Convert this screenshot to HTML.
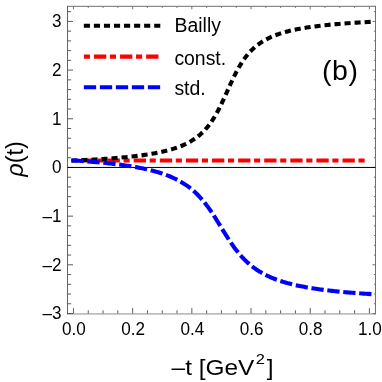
<!DOCTYPE html>
<html><head><meta charset="utf-8"><title>rho(t)</title>
<style>
html,body{margin:0;padding:0;background:#fff;}
body{width:382px;height:382px;overflow:hidden;}
svg{display:block;will-change:transform;}
text{font-family:"Liberation Sans",sans-serif;fill:#000;}
.tk{font-size:18.2px;}
.lg{font-size:19.4px;}
.ax{stroke:#4a4a4a;stroke-width:0.9;fill:none;}
.axl{stroke:#646464;stroke-width:1;fill:none;}
.fr{stroke:#707070;stroke-width:1;fill:none;}
.cv{fill:none;stroke-width:4.1;stroke-linecap:square;stroke-linejoin:round;}
</style></head>
<body>
<svg width="382" height="382" viewBox="0 0 382 382">
<rect width="382" height="382" fill="#fff"/>
<!-- frame -->
<path d="M67.5 6.3 H376.0" class="fr"/>
<path d="M375.5 5.8 V314.3" class="fr"/>
<path d="M67.0 313.95 H376.0" class="fr" style="stroke:#8c8c8c"/>
<path d="M67.5 5.8 V314.3" class="axl"/>
<line x1="73.45" y1="313.5" x2="73.45" y2="308.10" class="ax"/>
<line x1="73.45" y1="6.3" x2="73.45" y2="9.30" class="fr"/>
<line x1="88.25" y1="313.5" x2="88.25" y2="310.30" class="ax"/>
<line x1="88.25" y1="6.3" x2="88.25" y2="7.90" class="fr"/>
<line x1="103.05" y1="313.5" x2="103.05" y2="310.30" class="ax"/>
<line x1="103.05" y1="6.3" x2="103.05" y2="7.90" class="fr"/>
<line x1="117.84" y1="313.5" x2="117.84" y2="310.30" class="ax"/>
<line x1="117.84" y1="6.3" x2="117.84" y2="7.90" class="fr"/>
<line x1="132.64" y1="313.5" x2="132.64" y2="308.10" class="ax"/>
<line x1="132.64" y1="6.3" x2="132.64" y2="9.30" class="fr"/>
<line x1="147.44" y1="313.5" x2="147.44" y2="310.30" class="ax"/>
<line x1="147.44" y1="6.3" x2="147.44" y2="7.90" class="fr"/>
<line x1="162.24" y1="313.5" x2="162.24" y2="310.30" class="ax"/>
<line x1="162.24" y1="6.3" x2="162.24" y2="7.90" class="fr"/>
<line x1="177.03" y1="313.5" x2="177.03" y2="310.30" class="ax"/>
<line x1="177.03" y1="6.3" x2="177.03" y2="7.90" class="fr"/>
<line x1="191.83" y1="313.5" x2="191.83" y2="308.10" class="ax"/>
<line x1="191.83" y1="6.3" x2="191.83" y2="9.30" class="fr"/>
<line x1="206.63" y1="313.5" x2="206.63" y2="310.30" class="ax"/>
<line x1="206.63" y1="6.3" x2="206.63" y2="7.90" class="fr"/>
<line x1="221.43" y1="313.5" x2="221.43" y2="310.30" class="ax"/>
<line x1="221.43" y1="6.3" x2="221.43" y2="7.90" class="fr"/>
<line x1="236.22" y1="313.5" x2="236.22" y2="310.30" class="ax"/>
<line x1="236.22" y1="6.3" x2="236.22" y2="7.90" class="fr"/>
<line x1="251.02" y1="313.5" x2="251.02" y2="308.10" class="ax"/>
<line x1="251.02" y1="6.3" x2="251.02" y2="9.30" class="fr"/>
<line x1="265.82" y1="313.5" x2="265.82" y2="310.30" class="ax"/>
<line x1="265.82" y1="6.3" x2="265.82" y2="7.90" class="fr"/>
<line x1="280.62" y1="313.5" x2="280.62" y2="310.30" class="ax"/>
<line x1="280.62" y1="6.3" x2="280.62" y2="7.90" class="fr"/>
<line x1="295.41" y1="313.5" x2="295.41" y2="310.30" class="ax"/>
<line x1="295.41" y1="6.3" x2="295.41" y2="7.90" class="fr"/>
<line x1="310.21" y1="313.5" x2="310.21" y2="308.10" class="ax"/>
<line x1="310.21" y1="6.3" x2="310.21" y2="9.30" class="fr"/>
<line x1="325.01" y1="313.5" x2="325.01" y2="310.30" class="ax"/>
<line x1="325.01" y1="6.3" x2="325.01" y2="7.90" class="fr"/>
<line x1="339.81" y1="313.5" x2="339.81" y2="310.30" class="ax"/>
<line x1="339.81" y1="6.3" x2="339.81" y2="7.90" class="fr"/>
<line x1="354.60" y1="313.5" x2="354.60" y2="310.30" class="ax"/>
<line x1="354.60" y1="6.3" x2="354.60" y2="7.90" class="fr"/>
<line x1="369.40" y1="313.5" x2="369.40" y2="308.10" class="ax"/>
<line x1="369.40" y1="6.3" x2="369.40" y2="9.30" class="fr"/>
<line x1="67.5" y1="313.49" x2="73.00" y2="313.49" class="ax"/>
<line x1="375.5" y1="313.49" x2="372.50" y2="313.49" class="fr"/>
<line x1="67.5" y1="303.75" x2="71.10" y2="303.75" class="ax"/>
<line x1="375.5" y1="303.75" x2="373.90" y2="303.75" class="fr"/>
<line x1="67.5" y1="294.02" x2="71.10" y2="294.02" class="ax"/>
<line x1="375.5" y1="294.02" x2="373.90" y2="294.02" class="fr"/>
<line x1="67.5" y1="284.28" x2="71.10" y2="284.28" class="ax"/>
<line x1="375.5" y1="284.28" x2="373.90" y2="284.28" class="fr"/>
<line x1="67.5" y1="274.55" x2="71.10" y2="274.55" class="ax"/>
<line x1="375.5" y1="274.55" x2="373.90" y2="274.55" class="fr"/>
<line x1="67.5" y1="264.81" x2="73.00" y2="264.81" class="ax"/>
<line x1="375.5" y1="264.81" x2="372.50" y2="264.81" class="fr"/>
<line x1="67.5" y1="255.07" x2="71.10" y2="255.07" class="ax"/>
<line x1="375.5" y1="255.07" x2="373.90" y2="255.07" class="fr"/>
<line x1="67.5" y1="245.34" x2="71.10" y2="245.34" class="ax"/>
<line x1="375.5" y1="245.34" x2="373.90" y2="245.34" class="fr"/>
<line x1="67.5" y1="235.60" x2="71.10" y2="235.60" class="ax"/>
<line x1="375.5" y1="235.60" x2="373.90" y2="235.60" class="fr"/>
<line x1="67.5" y1="225.87" x2="71.10" y2="225.87" class="ax"/>
<line x1="375.5" y1="225.87" x2="373.90" y2="225.87" class="fr"/>
<line x1="67.5" y1="216.13" x2="73.00" y2="216.13" class="ax"/>
<line x1="375.5" y1="216.13" x2="372.50" y2="216.13" class="fr"/>
<line x1="67.5" y1="206.39" x2="71.10" y2="206.39" class="ax"/>
<line x1="375.5" y1="206.39" x2="373.90" y2="206.39" class="fr"/>
<line x1="67.5" y1="196.66" x2="71.10" y2="196.66" class="ax"/>
<line x1="375.5" y1="196.66" x2="373.90" y2="196.66" class="fr"/>
<line x1="67.5" y1="186.92" x2="71.10" y2="186.92" class="ax"/>
<line x1="375.5" y1="186.92" x2="373.90" y2="186.92" class="fr"/>
<line x1="67.5" y1="177.19" x2="71.10" y2="177.19" class="ax"/>
<line x1="375.5" y1="177.19" x2="373.90" y2="177.19" class="fr"/>
<line x1="67.5" y1="167.45" x2="73.00" y2="167.45" class="ax"/>
<line x1="375.5" y1="167.45" x2="372.50" y2="167.45" class="fr"/>
<line x1="67.5" y1="157.71" x2="71.10" y2="157.71" class="ax"/>
<line x1="375.5" y1="157.71" x2="373.90" y2="157.71" class="fr"/>
<line x1="67.5" y1="147.98" x2="71.10" y2="147.98" class="ax"/>
<line x1="375.5" y1="147.98" x2="373.90" y2="147.98" class="fr"/>
<line x1="67.5" y1="138.24" x2="71.10" y2="138.24" class="ax"/>
<line x1="375.5" y1="138.24" x2="373.90" y2="138.24" class="fr"/>
<line x1="67.5" y1="128.51" x2="71.10" y2="128.51" class="ax"/>
<line x1="375.5" y1="128.51" x2="373.90" y2="128.51" class="fr"/>
<line x1="67.5" y1="118.77" x2="73.00" y2="118.77" class="ax"/>
<line x1="375.5" y1="118.77" x2="372.50" y2="118.77" class="fr"/>
<line x1="67.5" y1="109.03" x2="71.10" y2="109.03" class="ax"/>
<line x1="375.5" y1="109.03" x2="373.90" y2="109.03" class="fr"/>
<line x1="67.5" y1="99.30" x2="71.10" y2="99.30" class="ax"/>
<line x1="375.5" y1="99.30" x2="373.90" y2="99.30" class="fr"/>
<line x1="67.5" y1="89.56" x2="71.10" y2="89.56" class="ax"/>
<line x1="375.5" y1="89.56" x2="373.90" y2="89.56" class="fr"/>
<line x1="67.5" y1="79.83" x2="71.10" y2="79.83" class="ax"/>
<line x1="375.5" y1="79.83" x2="373.90" y2="79.83" class="fr"/>
<line x1="67.5" y1="70.09" x2="73.00" y2="70.09" class="ax"/>
<line x1="375.5" y1="70.09" x2="372.50" y2="70.09" class="fr"/>
<line x1="67.5" y1="60.35" x2="71.10" y2="60.35" class="ax"/>
<line x1="375.5" y1="60.35" x2="373.90" y2="60.35" class="fr"/>
<line x1="67.5" y1="50.62" x2="71.10" y2="50.62" class="ax"/>
<line x1="375.5" y1="50.62" x2="373.90" y2="50.62" class="fr"/>
<line x1="67.5" y1="40.88" x2="71.10" y2="40.88" class="ax"/>
<line x1="375.5" y1="40.88" x2="373.90" y2="40.88" class="fr"/>
<line x1="67.5" y1="31.15" x2="71.10" y2="31.15" class="ax"/>
<line x1="375.5" y1="31.15" x2="373.90" y2="31.15" class="fr"/>
<line x1="67.5" y1="21.41" x2="73.00" y2="21.41" class="ax"/>
<line x1="375.5" y1="21.41" x2="372.50" y2="21.41" class="fr"/>
<line x1="67.5" y1="11.67" x2="71.10" y2="11.67" class="ax"/>
<line x1="375.5" y1="11.67" x2="373.90" y2="11.67" class="fr"/>
<!-- zero axis -->
<line x1="67.5" y1="167.45" x2="375.5" y2="167.45" stroke="#000" stroke-width="1"/>
<!-- curves -->
<path d="M83.55 160.5 H369.4" class="cv" stroke="#ff0000" stroke-dasharray="8.2 7.8 2 8.1"/>
<path d="M73.45 160.60 L74.94 160.54 L76.42 160.47 L77.91 160.40 L79.40 160.33 L80.89 160.26 L82.37 160.19 L83.86 160.11 L85.35 160.04 L86.83 159.96 L88.32 159.88 L89.81 159.80 L91.30 159.72 L92.78 159.63 L94.27 159.55 L95.76 159.46 L97.24 159.37 L98.73 159.28 L100.22 159.19 L101.71 159.09 L103.19 158.99 L104.68 158.89 L106.17 158.79 L107.66 158.68 L109.14 158.58 L110.63 158.47 L112.12 158.35 L113.60 158.24 L115.09 158.12 L116.58 157.99 L118.07 157.87 L119.55 157.74 L121.04 157.61 L122.53 157.47 L124.01 157.33 L125.50 157.19 L126.99 157.04 L128.48 156.89 L129.96 156.73 L131.45 156.57 L132.94 156.41 L134.42 156.24 L135.91 156.06 L137.40 155.88 L138.89 155.69 L140.37 155.50 L141.86 155.30 L143.35 155.10 L144.83 154.88 L146.32 154.66 L147.81 154.43 L149.30 154.20 L150.78 153.95 L152.27 153.70 L153.76 153.44 L155.25 153.16 L156.73 152.88 L158.22 152.59 L159.71 152.28 L161.19 151.96 L162.68 151.63 L164.17 151.28 L165.66 150.92 L167.14 150.55 L168.63 150.15 L170.12 149.74 L171.60 149.31 L173.09 148.86 L174.58 148.39 L176.07 147.90 L177.55 147.37 L179.04 146.83 L180.53 146.25 L182.01 145.64 L183.50 145.00 L184.99 144.33 L186.48 143.61 L187.96 142.86 L189.45 142.06 L190.94 141.21 L192.42 140.30 L193.91 139.35 L195.40 138.32 L196.89 137.24 L198.37 136.08 L199.86 134.84 L201.35 133.51 L202.84 132.10 L204.32 130.58 L205.81 128.96 L207.30 127.22 L208.78 125.36 L210.27 123.37 L211.76 121.25 L213.25 118.98 L214.73 116.57 L216.22 114.01 L217.71 111.30 L219.19 108.46 L220.68 105.49 L222.17 102.40 L223.66 99.21 L225.14 95.95 L226.63 92.64 L228.12 89.32 L229.60 86.02 L231.09 82.76 L232.58 79.57 L234.07 76.48 L235.55 73.51 L237.04 70.66 L238.53 67.96 L240.01 65.40 L241.50 62.99 L242.99 60.72 L244.48 58.60 L245.96 56.61 L247.45 54.75 L248.94 53.01 L250.43 51.39 L251.91 49.87 L253.40 48.46 L254.89 47.13 L256.37 45.89 L257.86 44.73 L259.35 43.64 L260.84 42.62 L262.32 41.66 L263.81 40.76 L265.30 39.91 L266.78 39.11 L268.27 38.35 L269.76 37.64 L271.25 36.96 L272.73 36.32 L274.22 35.72 L275.71 35.14 L277.19 34.59 L278.68 34.07 L280.17 33.58 L281.66 33.10 L283.14 32.65 L284.63 32.22 L286.12 31.81 L287.60 31.42 L289.09 31.04 L290.58 30.68 L292.07 30.34 L293.55 30.00 L295.04 29.69 L296.53 29.38 L298.02 29.09 L299.50 28.80 L300.99 28.53 L302.48 28.27 L303.96 28.01 L305.45 27.77 L306.94 27.53 L308.43 27.31 L309.91 27.09 L311.40 26.87 L312.89 26.67 L314.37 26.47 L315.86 26.27 L317.35 26.09 L318.84 25.91 L320.32 25.73 L321.81 25.56 L323.30 25.39 L324.78 25.23 L326.27 25.08 L327.76 24.93 L329.25 24.78 L330.73 24.63 L332.22 24.49 L333.71 24.36 L335.19 24.23 L336.68 24.10 L338.17 23.97 L339.66 23.85 L341.14 23.73 L342.63 23.62 L344.12 23.50 L345.61 23.39 L347.09 23.28 L348.58 23.18 L350.07 23.08 L351.55 22.98 L353.04 22.88 L354.53 22.78 L356.02 22.69 L357.50 22.60 L358.99 22.51 L360.48 22.42 L361.96 22.33 L363.45 22.25 L364.94 22.17 L366.43 22.09 L367.91 22.01 L369.40 21.93" class="cv" stroke="#000" stroke-dasharray="2 8.05"/>
<path d="M73.45 160.43 L74.94 160.52 L76.42 160.62 L77.91 160.72 L79.40 160.82 L80.89 160.93 L82.37 161.03 L83.86 161.14 L85.35 161.25 L86.83 161.36 L88.32 161.48 L89.81 161.60 L91.30 161.72 L92.78 161.84 L94.27 161.97 L95.76 162.10 L97.24 162.23 L98.73 162.36 L100.22 162.50 L101.71 162.64 L103.19 162.79 L104.68 162.93 L106.17 163.08 L107.66 163.24 L109.14 163.40 L110.63 163.56 L112.12 163.73 L113.60 163.90 L115.09 164.08 L116.58 164.26 L118.07 164.44 L119.55 164.63 L121.04 164.83 L122.53 165.03 L124.01 165.24 L125.50 165.45 L126.99 165.67 L128.48 165.89 L129.96 166.12 L131.45 166.36 L132.94 166.61 L134.42 166.86 L135.91 167.12 L137.40 167.39 L138.89 167.67 L140.37 167.96 L141.86 168.25 L143.35 168.56 L144.83 168.88 L146.32 169.20 L147.81 169.54 L149.30 169.89 L150.78 170.26 L152.27 170.64 L153.76 171.03 L155.25 171.43 L156.73 171.85 L158.22 172.29 L159.71 172.75 L161.19 173.22 L162.68 173.71 L164.17 174.23 L165.66 174.76 L167.14 175.32 L168.63 175.90 L170.12 176.50 L171.60 177.14 L173.09 177.80 L174.58 178.49 L176.07 179.21 L177.55 179.97 L179.04 180.77 L180.53 181.60 L182.01 182.47 L183.50 183.39 L184.99 184.35 L186.48 185.36 L187.96 186.42 L189.45 187.54 L190.94 188.71 L192.42 189.94 L193.91 191.23 L195.40 192.59 L196.89 194.02 L198.37 195.52 L199.86 197.10 L201.35 198.75 L202.84 200.48 L204.32 202.28 L205.81 204.17 L207.30 206.13 L208.78 208.17 L210.27 210.28 L211.76 212.46 L213.25 214.70 L214.73 217.00 L216.22 219.34 L217.71 221.72 L219.19 224.13 L220.68 226.55 L222.17 228.98 L223.66 231.39 L225.14 233.79 L226.63 236.16 L228.12 238.48 L229.60 240.75 L231.09 242.96 L232.58 245.11 L234.07 247.19 L235.55 249.19 L237.04 251.11 L238.53 252.96 L240.01 254.73 L241.50 256.42 L242.99 258.03 L244.48 259.57 L245.96 261.04 L247.45 262.43 L248.94 263.76 L250.43 265.03 L251.91 266.23 L253.40 267.37 L254.89 268.46 L256.37 269.50 L257.86 270.48 L259.35 271.42 L260.84 272.32 L262.32 273.17 L263.81 273.99 L265.30 274.76 L266.78 275.51 L268.27 276.21 L269.76 276.89 L271.25 277.54 L272.73 278.16 L274.22 278.75 L275.71 279.32 L277.19 279.87 L278.68 280.39 L280.17 280.90 L281.66 281.38 L283.14 281.84 L284.63 282.29 L286.12 282.72 L287.60 283.13 L289.09 283.53 L290.58 283.92 L292.07 284.29 L293.55 284.64 L295.04 284.99 L296.53 285.32 L298.02 285.65 L299.50 285.96 L300.99 286.26 L302.48 286.55 L303.96 286.84 L305.45 287.11 L306.94 287.37 L308.43 287.63 L309.91 287.88 L311.40 288.12 L312.89 288.36 L314.37 288.59 L315.86 288.81 L317.35 289.02 L318.84 289.23 L320.32 289.44 L321.81 289.64 L323.30 289.83 L324.78 290.02 L326.27 290.20 L327.76 290.38 L329.25 290.55 L330.73 290.72 L332.22 290.89 L333.71 291.05 L335.19 291.21 L336.68 291.36 L338.17 291.51 L339.66 291.65 L341.14 291.80 L342.63 291.94 L344.12 292.07 L345.61 292.21 L347.09 292.34 L348.58 292.46 L350.07 292.59 L351.55 292.71 L353.04 292.83 L354.53 292.95 L356.02 293.06 L357.50 293.17 L358.99 293.28 L360.48 293.39 L361.96 293.49 L363.45 293.60 L364.94 293.70 L366.43 293.80 L367.91 293.89 L369.40 293.99" class="cv" stroke="#0000ff" stroke-dasharray="8.2 7.8"/>
<!-- legend -->
<path d="M85.9 25.8 H158.3" class="cv" stroke="#000" stroke-dasharray="2 8.05"/>
<path d="M85.9 56.6 H158.3" class="cv" stroke="#ff0000" stroke-dasharray="2 8.1 8.2 7.8"/>
<path d="M85.9 87.3 H158.3" class="cv" stroke="#0000ff" stroke-dasharray="8.2 7.8"/>
<text x="174.6" y="32.3" class="lg">Bailly</text>
<text x="174.4" y="64.7" class="lg">const.</text>
<text x="174.4" y="95.3" class="lg">std.</text>
<text x="322" y="79.8" style="font-size:28.5px;letter-spacing:0.55px">(b)</text>
<!-- tick labels -->
<text transform="translate(73.95 335) scale(0.94 1)" text-anchor="middle" class="tk">0.0</text>
<text transform="translate(133.14 335) scale(0.94 1)" text-anchor="middle" class="tk">0.2</text>
<text transform="translate(192.33 335) scale(0.94 1)" text-anchor="middle" class="tk">0.4</text>
<text transform="translate(251.52 335) scale(0.94 1)" text-anchor="middle" class="tk">0.6</text>
<text transform="translate(310.71 335) scale(0.94 1)" text-anchor="middle" class="tk">0.8</text>
<text transform="translate(369.90 335) scale(0.94 1)" text-anchor="middle" class="tk">1.0</text>
<text transform="translate(61.6 27.21) scale(0.94 1)" text-anchor="end" class="tk">3</text>
<text transform="translate(61.6 75.89) scale(0.94 1)" text-anchor="end" class="tk">2</text>
<text transform="translate(61.6 124.57) scale(0.94 1)" text-anchor="end" class="tk">1</text>
<text transform="translate(61.6 173.25) scale(0.94 1)" text-anchor="end" class="tk">0</text>
<text transform="translate(61.6 221.93) scale(0.94 1)" text-anchor="end" class="tk">–1</text>
<text transform="translate(61.6 270.61) scale(0.94 1)" text-anchor="end" class="tk">–2</text>
<text transform="translate(61.6 319.29) scale(0.94 1)" text-anchor="end" class="tk">–3</text>
<!-- axis labels -->
<text transform="translate(171.6 374.6) scale(1.085 1)" style="font-size:22.5px">–t [GeV<tspan dx="1.2" dy="-10.8" style="font-size:15.2px">2</tspan><tspan dx="1.8" dy="10.8">]</tspan></text>
<text transform="translate(23.0 176.8) rotate(-90)" style="font-size:23.5px"><tspan style="font-style:italic">ρ</tspan>(t)</text>
</svg>
</body></html>
